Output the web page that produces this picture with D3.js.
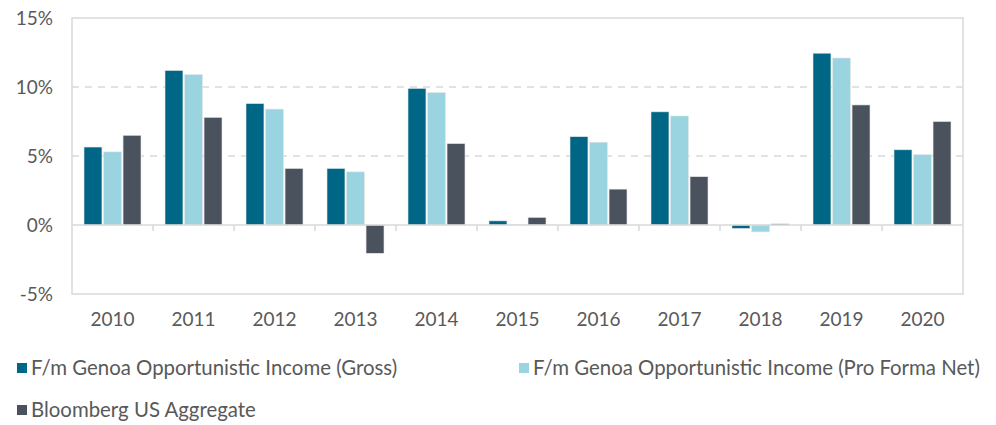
<!DOCTYPE html>
<html><head><meta charset="utf-8">
<script src="https://cdn.jsdelivr.net/npm/d3@7"></script>
<style>body{margin:0;background:#fff;} text{font-family:Lato, "Open Sans", sans-serif;}</style>
</head><body><svg id="c" width="996" height="425"></svg>
<script>
const categories = ["2010","2011","2012","2013","2014","2015","2016","2017","2018","2019","2020"];
const seriesNames = ["F/m Genoa Opportunistic Income (Gross)","F/m Genoa Opportunistic Income (Pro Forma Net)","Bloomberg US Aggregate"];
const gross = [5.65, 11.2, 8.8, 4.1, 9.9, 0.3, 6.4, 8.2, -0.25, 12.45, 5.45];
const net   = [5.3, 10.9, 8.4, 3.85, 9.6, 0.05, 6.0, 7.9, -0.5, 12.1, 5.1];
const agg   = [6.5, 7.8, 4.1, -2.05, 5.9, 0.55, 2.6, 3.5, 0.08, 8.7, 7.5];
const yTicks = [-5, 0, 5, 10, 15];
const colors = ["#006685", "#99d4e0", "#4a525e"];
const series = [gross, net, agg];

const svg = d3.select("#c");
const L = 72, R = 963, T = 18, B = 294;
const x = d3.scaleBand().domain(categories).range([L, R]).paddingInner(0).paddingOuter(0);
const y = d3.scaleLinear().domain([-5, 15]).range([B, T]);
const xs = d3.scaleBand().domain([0,1,2]).range([12, 69]).paddingInner(0.08);
const textCol = "#595959", gridCol = "#d9d9d9";

// gridlines
svg.append("g").selectAll("line").data(yTicks.filter(t => t !== 0 && t !== -5 && t !== 15)).join("line")
  .attr("x1", L).attr("x2", R).attr("y1", d => y(d)).attr("y2", d => y(d))
  .attr("stroke", gridCol).attr("stroke-width", 1.5).attr("stroke-dasharray", "7,6");
// frame
svg.append("rect").attr("x", L).attr("y", T).attr("width", R - L).attr("height", B - T)
  .attr("fill", "none").attr("stroke", gridCol).attr("stroke-width", 1.5);

// bars
const g = svg.append("g");
categories.forEach((c, i) => {
  series.forEach((s, k) => {
    const v = s[i];
    g.append("rect")
      .attr("x", x(c) + xs(k)).attr("width", xs.bandwidth())
      .attr("y", y(Math.max(0, v))).attr("height", Math.abs(y(v) - y(0)))
      .attr("fill", colors[k]).attr("stroke", "#e6e6e6").attr("stroke-width", 0.6);
  });
});

// zero axis with ticks
svg.append("line").attr("x1", L).attr("x2", R).attr("y1", y(0)).attr("y2", y(0))
  .attr("stroke", gridCol).attr("stroke-width", 1.5);
svg.append("g").selectAll("line").data(categories.slice(1)).join("line")
  .attr("x1", d => x(d)).attr("x2", d => x(d)).attr("y1", y(0)).attr("y2", y(0) + 6)
  .attr("stroke", gridCol).attr("stroke-width", 1.5);

// y labels
const yAxis = d3.axisLeft(y).tickValues(yTicks).tickSize(0).tickPadding(19).tickFormat(d => d + "%");
const ya = svg.append("g").attr("transform", `translate(${L},0)`).call(yAxis);
ya.select(".domain").remove();
ya.selectAll("text").attr("fill", textCol).style("font-size", "19px").style("font-family", "Lato");

// x labels
const xa = svg.append("g").attr("transform", `translate(0,${B})`).call(d3.axisBottom(x).tickSize(0).tickPadding(19));
xa.select(".domain").remove();
xa.selectAll("text").attr("fill", textCol).style("font-size", "19px").style("font-family", "Lato");

// legend
const leg = [{x: 17, y: 368}, {x: 519, y: 368}, {x: 17, y: 410}];
seriesNames.forEach((n, k) => {
  const p = leg[k];
  svg.append("rect").attr("x", p.x).attr("y", p.y - 5).attr("width", 10).attr("height", 10).attr("fill", colors[k]);
  svg.append("text").attr("x", p.x + 14).attr("y", p.y).attr("dy", "0.35em")
    .attr("fill", textCol).style("font-size", "20.4px").text(n);
});
</script></body></html>
